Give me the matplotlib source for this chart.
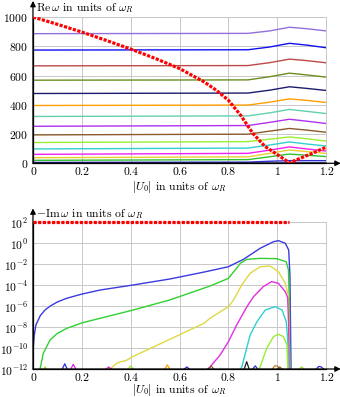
import numpy as np
import matplotlib
matplotlib.use('Agg')
import matplotlib.pyplot as plt
from matplotlib.ticker import LogFormatterMathtext

plt.rcParams['font.family'] = 'cmr10'
plt.rcParams['mathtext.fontset'] = 'cm'
plt.rcParams['axes.formatter.use_mathtext'] = True
plt.rcParams['axes.unicode_minus'] = False
plt.rcParams['font.size'] = 8.4

# ---- top panel: Re(omega) ----
red_u = [0, 0.1, 0.2, 0.3, 0.4, 0.5, 0.6, 0.7, 0.75, 0.8, 0.85, 0.9, 0.95, 1.0, 1.05, 1.1, 1.15, 1.2]
red_re = [1000, 950, 897, 840, 781, 717, 648, 557, 500, 431, 329, 205, 115, 60, 3, 38, 73, 110]

re_knots = [0, 0.88, 0.97, 1.05, 1.12, 1.2]
re_colors = ['#9370db', '#1010f0', '#c04848', '#6b8e23', '#1c1c6c', '#ffa000', '#60d0b0',
             '#b030f0', '#8b5a2b', '#99f030', '#30d0d0', '#f020f0', '#e8d030', '#30c030',
             '#3030d0', '#101050']
re_levels = [
    [886, 888, 905, 930, 920, 905],
    [774, 776, 795, 820, 808, 790],
    [666, 668, 688, 712, 702, 687],
    [568, 570, 592, 616, 604, 589],
    [477, 480, 500, 523, 512, 498],
    [395, 398, 418, 440, 430, 416],
    [320, 324, 345, 368, 355, 340],
    [253, 258, 280, 301, 288, 272],
    [194, 199, 220, 238, 227, 212],
    [142, 148, 165, 180, 168, 152],
    [98, 104, 125, 146, 132, 118],
    [61, 68, 90, 112, 98, 84],
    [38, 44, 68, 91, 80, 68],
    [20, 25, 45, 63, 55, 46],
    [6, 8, 14, 18, 18, 18],
    [1, 1, 1, 2, 2, 2],
]

# ---- bottom panel: -Im(omega), values as log10 ----
im_red_u = [0, 1.05]
im_red = [2, 2]

im_blue_u = [0.001, 0.005, 0.012, 0.03, 0.05, 0.07, 0.1, 0.138, 0.2, 0.275, 0.41, 0.56, 0.70, 0.80, 0.862, 0.93, 0.985, 1.005, 1.033, 1.047, 1.052, 1.057]
im_blue = [-10.0, -8.8, -7.8, -6.9, -6.35, -6.0, -5.6, -5.25, -4.85, -4.46, -3.98, -3.41, -2.75, -2.24, -1.53, -0.48, 0.15, 0.25, 0.0, -0.64, -3.0, -13]

im_green_u = [0.029, 0.042, 0.07, 0.1, 0.138, 0.2, 0.275, 0.41, 0.56, 0.725, 0.80, 0.828, 0.849, 0.876, 0.93, 0.998, 1.037, 1.046, 1.05, 1.052]
im_green = [-12, -10.5, -9.23, -8.6, -8.12, -7.6, -7.16, -6.37, -5.41, -4.08, -3.35, -2.55, -1.91, -1.53, -1.44, -1.47, -1.76, -2.55, -6, -13]

im_yellow_u = [0.316, 0.34, 0.36, 0.38, 0.41, 0.56, 0.70, 0.725, 0.80, 0.821, 0.855, 0.889, 0.93, 0.971, 1.005, 1.033, 1.045, 1.049, 1.051]
im_yellow = [-12, -11.5, -11.3, -11.2, -10.8, -9.17, -7.64, -7.16, -6.05, -5.41, -3.98, -2.87, -2.24, -2.17, -2.71, -3.82, -4.94, -8, -13]

im_magenta_u = [0.715, 0.725, 0.766, 0.80, 0.834, 0.876, 0.903, 0.943, 0.977, 1.005, 1.033, 1.043, 1.047, 1.049]
im_magenta = [-12, -11.8, -10.67, -9.4, -7.8, -6.05, -5.1, -4.14, -3.66, -3.82, -4.62, -5.2, -8, -13]

im_cyan_u = [0.85, 0.855, 0.889, 0.917, 0.951, 0.992, 1.02, 1.037, 1.043, 1.047]
im_cyan = [-12, -11.8, -8.76, -7.48, -6.37, -6.05, -6.37, -7.48, -9.2, -13]

im_lime_u = [0.925, 0.93, 0.957, 0.985, 1.005, 1.025, 1.04, 1.045]
im_lime = [-12, -11.8, -10.02, -8.9, -8.69, -8.9, -9.7, -13]

# numerical noise along the floor
noise = [
    ('#3030d0', [0.12, 0.13, 0.14], [-12, -11.5, -12]),
    ('#e020e0', [0.155, 0.165, 0.175], [-12, -11.55, -12]),
    ('#99e030', [0.045, 0.05, 0.055], [-12, -11.8, -12]),
    ('#e020e0', [0.3, 0.31, 0.32], [-12, -11.8, -12]),
    ('#99e030', [0.39, 0.4, 0.41], [-12, -11.7, -12]),
    ('#ffa000', [0.54, 0.55, 0.56], [-12, -11.6, -12]),
    ('#3030d0', [0.62, 0.63, 0.64], [-12, -11.8, -12]),
    ('#8b5a2b', [0.72, 0.73, 0.74], [-12, -11.7, -12]),
    ('#202020', [0.865, 0.875, 0.885], [-12, -11.3, -12]),
    ('#3030d0', [0.9, 0.91, 0.92], [-12, -11.7, -12]),
    ('#c08030', [0.98, 0.99, 1.0, 1.01], [-12, -11.7, -11.7, -12]),
    ('#8b5a2b', [1.0, 1.01, 1.02], [-12, -11.8, -12]),
    ('#99e030', [1.09, 1.1, 1.11], [-12, -11.8, -12]),
    ('#3030d0', [1.16, 1.17, 1.18, 1.19], [-12, -11.75, -11.8, -12]),
]

grid_c = '#c8c8c8'
fig = plt.figure(figsize=(3.4, 3.97), dpi=100)
ax1 = fig.add_axes([0.097, 0.5887, 0.862, 0.3685])
ax2 = fig.add_axes([0.097, 0.0705, 0.862, 0.3695])

for lv, c in zip(re_levels, re_colors):
    ax1.plot(re_knots, lv, color=c, lw=1.0)
ax1.plot(red_u, red_re, color='red', lw=2.3, ls=(0, (1.0, 0.45)), zorder=5)
ax1.set_xlim(0, 1.2)
ax1.set_ylim(0, 1000)
ax1.set_yticks([0, 200, 400, 600, 800, 1000])

ax2.set_yscale('log')
for u, v, c in [(im_blue_u, im_blue, '#3a3ae0'), (im_green_u, im_green, '#30d030'),
                (im_yellow_u, im_yellow, '#e0d840'), (im_magenta_u, im_magenta, '#e030e0'),
                (im_cyan_u, im_cyan, '#30d0d0'), (im_lime_u, im_lime, '#99ee30')]:
    ax2.plot(u, 10.0 ** np.array(v), color=c, lw=1.0)
for c, u, v in noise:
    ax2.plot(u, 10.0 ** np.array(v), color=c, lw=0.9)
ax2.plot(im_red_u, 10.0 ** np.array(im_red), color='red', lw=2.3, ls=(0, (1.0, 0.45)),
         zorder=5, clip_on=False)
ax2.set_xlim(0, 1.2)
ax2.set_ylim(1e-12, 1e2)
ax2.set_yticks([10.0 ** k for k in range(-12, 3, 2)])
ax2.yaxis.set_major_formatter(LogFormatterMathtext())
ax2.yaxis.set_minor_locator(plt.NullLocator())

for ax, ytop, ylab in [(ax1, 1.11, -0.163), (ax2, 1.095, -0.142)]:
    ax.set_xticks([0, 0.2, 0.4, 0.6, 0.8, 1.0, 1.2])
    ax.set_xticklabels(['0', '0.2', '0.4', '0.6', '0.8', '1', '1.2'])
    ax.grid(True, color=grid_c, lw=0.7)
    ax.set_axisbelow(True)
    ax.tick_params(length=0, pad=3.5)
    ax.tick_params(axis='x', pad=3)
    for s in ['top', 'right']:
        ax.spines[s].set_color(grid_c)
        ax.spines[s].set_linewidth(0.7)
    for s in ['left', 'bottom']:
        ax.spines[s].set_linewidth(0.9)
    ax.annotate('', xy=(1.05, 0), xytext=(0, 0), xycoords='axes fraction',
                arrowprops=dict(arrowstyle='-|>', color='k', lw=0.9,
                                mutation_scale=8, shrinkA=0, shrinkB=0))
    ax.annotate('', xy=(0, ytop), xytext=(0, 0), xycoords='axes fraction',
                arrowprops=dict(arrowstyle='-|>', color='k', lw=0.9,
                                mutation_scale=8, shrinkA=0, shrinkB=0))
    ax.text(0.5, ylab, r'$|U_0|$ in units of $\omega_R$', transform=ax.transAxes,
            ha='center', va='center')

ax1.text(0.012, 1.06, r'$\mathrm{Re}\,\omega$ in units of $\omega_R$',
         transform=ax1.transAxes, va='center', ha='left')
ax2.text(0.012, 1.06, r'$-\mathrm{Im}\,\omega$ in units of $\omega_R$',
         transform=ax2.transAxes, va='center', ha='left')

fig.savefig('out.png', dpi=100)
